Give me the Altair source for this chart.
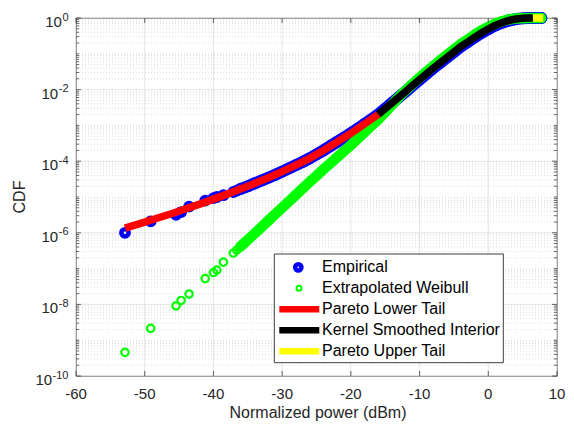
import altair as alt
import pandas as pd

# ---------------- values ----------------
# Empirical CDF: normalized power (dBm) and -log10(CDF)
emp_power = [-52.87, -49.13, -45.44, -44.70, -43.55, -41.20, -40.00, -39.50, -38.55, -37.10, -36.60, -36.10,
             -35, -34, -33, -32, -31, -30, -29, -28, -27, -26, -25, -24, -23, -22, -21, -20,
             -19, -18, -17, -16, -15, -14, -13, -12, -11, -10, -9, -8, -7, -6, -5, -4, -3, -2, -1,
             0, 1, 2, 3, 4, 5, 6, 7, 7.7]
emp_nlog = [6.00, 5.68, 5.50, 5.42, 5.27, 5.10, 5.03, 5.00, 4.95, 4.86, 4.82, 4.78,
            4.70, 4.62, 4.54, 4.46, 4.38, 4.29, 4.20, 4.11, 4.02, 3.92, 3.81, 3.70, 3.58, 3.46, 3.34, 3.22,
            3.09, 2.96, 2.83, 2.69, 2.53, 2.37, 2.21, 2.05, 1.88, 1.72, 1.56, 1.40, 1.25, 1.10, 0.95, 0.80,
            0.67, 0.54, 0.42,
            0.31, 0.21, 0.13, 0.07, 0.03, 0.01, 0.003, 0.0005, 0.0]
# Extrapolated Weibull evaluated at the same powers
wb_nlog = [9.34, 8.67, 8.04, 7.89, 7.71, 7.28, 7.11, 7.04, 6.82, 6.57, 6.48, 6.39,
           6.20, 6.02, 5.84, 5.66, 5.48, 5.30, 5.12, 4.94, 4.76, 4.58, 4.41, 4.23, 4.06, 3.89, 3.72, 3.55,
           3.37, 3.19, 3.01, 2.83, 2.63, 2.42, 2.21, 2.02, 1.84, 1.67, 1.50, 1.34, 1.18, 1.03, 0.88, 0.73,
           0.60, 0.47, 0.35,
           0.25, 0.16, 0.09, 0.04, 0.015, 0.004, 0.001, 0.0, 0.0]
# Pareto lower tail
red_power = [-52.87, -50, -48, -46, -44, -42, -40, -38, -36, -34, -32, -30, -28, -26, -24, -22, -20, -18, -16]
red_nlog = [5.87, 5.70, 5.58, 5.46, 5.33, 5.20, 5.06, 4.92, 4.77, 4.62, 4.46, 4.29, 4.11, 3.92, 3.70,
            3.46, 3.22, 2.96, 2.69]
# Kernel smoothed interior
ker_power = [-16, -15, -14, -13, -12, -11, -10, -9, -8, -7, -6, -5, -4, -3, -2, -1, 0, 1, 2, 3, 4, 5, 6, 6.5]
ker_nlog = [2.69, 2.53, 2.37, 2.21, 2.05, 1.88, 1.72, 1.56, 1.40, 1.25, 1.10, 0.95, 0.80, 0.67, 0.54, 0.42,
            0.31, 0.21, 0.13, 0.07, 0.03, 0.01, 0.003, 0.001]
# Pareto upper tail
up_power = [6.5, 7.0, 7.5, 8.0]
up_nlog = [0.001, 0.0006, 0.0002, 0.0]

x_ticks = [-60, -50, -40, -30, -20, -10, 0, 10]
y_exps = [0, -2, -4, -6, -8, -10]
x_title = "Normalized power (dBm)"
y_title = "CDF"
legend_labels = ["Empirical", "Extrapolated Weibull", "Pareto Lower Tail",
                 "Kernel Smoothed Interior", "Pareto Upper Tail"]
legend_colors = ["#0000ff", "#00ff00", "#ff0000", "#000000", "#ffff00"]

# ---------------- tables ----------------
def frame(p, nl):
    return pd.DataFrame({"p": p, "cdf": [10.0 ** (-v) for v in nl]})

emp_df = frame(emp_power, emp_nlog)
wb_df = frame(emp_power, wb_nlog)
red_df = frame(red_power, red_nlog)
ker_df = frame(ker_power, ker_nlog)
up_df = frame(up_power, up_nlog)

minor_vals = [k * 10.0 ** d for d in range(-10, 0) for k in range(2, 10)] + \
             [10.0 ** d for d in (-9, -7, -5, -3, -1)]
minor_df = pd.DataFrame({"v": minor_vals})
major_df = pd.DataFrame({"v": [10.0 ** e for e in y_exps]})
xt_df = pd.DataFrame({"t": x_ticks, "lab": [("-" if t < 0 else "") + str(abs(t)) for t in x_ticks]})
ylab_df = pd.DataFrame({"e": y_exps, "v": [10.0 ** e for e in y_exps],
                        "lab": [("-" if e < 0 else "") + str(abs(e)) for e in y_exps]})
leg_df = pd.DataFrame({"label": legend_labels, "i": list(range(len(legend_labels)))})
one = pd.DataFrame({"a": [0]})

W, H = 481, 358
FONT = "Liberation Sans"
AX = "#262626"
GRID = "#dedede"

xscale = alt.Scale(domain=[-60, 10], nice=False, zero=False)
yscale = alt.Scale(type="log", domain=[1e-10, 1], nice=False)

X = lambda: alt.X("p:Q", scale=xscale, axis=None)
Y = lambda: alt.Y("cdf:Q", scale=yscale, axis=None)

# grids
xgrid = alt.Chart(xt_df).mark_rule(color=GRID, strokeWidth=0.8).encode(
    x=alt.X("t:Q", scale=xscale, axis=None))
ygrid = alt.Chart(major_df).mark_rule(color=GRID, strokeWidth=0.8).encode(
    y=alt.Y("v:Q", scale=yscale, axis=None))
minor_grid = alt.Chart(minor_df).mark_rule(color="#cdcdcd", strokeWidth=0.7, strokeDash=[1, 2]).encode(
    y=alt.Y("v:Q", scale=yscale, axis=None))

# data
emp_band = alt.Chart(emp_df).transform_filter("datum.p >= -36.2").mark_line(
    color="#0000ff", strokeWidth=12, strokeCap="round", strokeJoin="round").encode(x=X(), y=Y())
emp_pts = alt.Chart(emp_df).mark_point(shape="circle", filled=False, color="#0000ff", size=52,
                                      strokeWidth=4.6, opacity=1).encode(x=X(), y=Y())
wb_band = alt.Chart(wb_df).transform_filter("datum.p >= -36.2").mark_line(
    color="#00ff00", strokeWidth=10.5, strokeCap="round", strokeJoin="round").encode(x=X(), y=Y())
wb_pts = alt.Chart(wb_df).mark_point(shape="circle", filled=False, color="#00ff00", size=55,
                                    strokeWidth=2.2, opacity=1).encode(x=X(), y=Y())
red_line = alt.Chart(red_df).mark_line(color="#ff0000", strokeWidth=7.5, strokeCap="butt").encode(x=X(), y=Y())
ker_line = alt.Chart(ker_df).mark_line(color="#000000", strokeWidth=7.5, strokeCap="butt").encode(x=X(), y=Y())
up_line = alt.Chart(up_df).mark_line(color="#ffff00", strokeWidth=7.5, strokeCap="butt").encode(x=X(), y=Y())

# inward ticks
tick_style = dict(color=AX, strokeWidth=0.7)
xt_bot = alt.Chart(xt_df).mark_rule(**tick_style).encode(
    x=alt.X("t:Q", scale=xscale, axis=None), y=alt.value(H), y2=alt.value(H - 5))
xt_top = alt.Chart(xt_df).mark_rule(**tick_style).encode(
    x=alt.X("t:Q", scale=xscale, axis=None), y=alt.value(0), y2=alt.value(5))
yt_l = alt.Chart(major_df).mark_rule(**tick_style).encode(
    y=alt.Y("v:Q", scale=yscale, axis=None), x=alt.value(0), x2=alt.value(5))
yt_r = alt.Chart(major_df).mark_rule(**tick_style).encode(
    y=alt.Y("v:Q", scale=yscale, axis=None), x=alt.value(W - 5), x2=alt.value(W))
ym_l = alt.Chart(minor_df).mark_rule(**tick_style).encode(
    y=alt.Y("v:Q", scale=yscale, axis=None), x=alt.value(0), x2=alt.value(3))
ym_r = alt.Chart(minor_df).mark_rule(**tick_style).encode(
    y=alt.Y("v:Q", scale=yscale, axis=None), x=alt.value(W - 3), x2=alt.value(W))

# x tick labels
xlab = alt.Chart(xt_df).mark_text(align="center", baseline="alphabetic", fontSize=15, font=FONT,
                                  color=AX).encode(
    x=alt.X("t:Q", scale=xscale, axis=None), y=alt.value(H + 23), text="lab:N")
# y tick labels 10^e
ylab_exp = alt.Chart(ylab_df).mark_text(align="right", baseline="alphabetic", fontSize=11, font=FONT,
                                        color=AX, dy=2.5).encode(
    y=alt.Y("v:Q", scale=yscale, axis=None), x=alt.value(-7.5), text="lab:N")
ylab_base = alt.Chart(ylab_df).transform_calculate(
    bx="-8 - (6.12*(length(datum.lab) - (datum.e < 0 ? 1 : 0)) + (datum.e < 0 ? 3.66 : 0))"
).mark_text(align="right", baseline="alphabetic", fontSize=15, font=FONT, color=AX, dy=9, text="10").encode(
    y=alt.Y("v:Q", scale=yscale, axis=None), x=alt.X("bx:Q", scale=None, axis=None))
# axis titles
xtitle = alt.Chart(one).mark_text(align="center", baseline="alphabetic", fontSize=16, font=FONT,
                                  color=AX, text=x_title).encode(x=alt.value(242), y=alt.value(H + 42))
ytitle = alt.Chart(one).mark_text(align="center", baseline="alphabetic", fontSize=16, font=FONT,
                                  color=AX, angle=270, text=y_title).encode(x=alt.value(-51), y=alt.value(179))

# legend
leg_color = alt.Color("label:N", scale=alt.Scale(domain=legend_labels, range=legend_colors), legend=None)
leg_y = alt.Y("ly:Q", scale=None, axis=None)
leg_box = alt.Chart(one).mark_rect(fill="white", stroke=AX, strokeWidth=0.9).encode(
    x=alt.value(198.3), x2=alt.value(427.3), y=alt.value(236), y2=alt.value(344.7))
leg_base = alt.Chart(leg_df).transform_calculate(ly="249.3 + datum.i * 21")
leg_text = leg_base.mark_text(align="left", baseline="middle", fontSize=16, font=FONT, color="#000000").encode(
    x=alt.value(246), y=leg_y, text="label:N")
leg_lines = leg_base.transform_filter("datum.i >= 2").mark_rule(strokeWidth=6.5, strokeCap="butt").encode(
    x=alt.value(203.3), x2=alt.value(243.3), y=leg_y, color=leg_color)
leg_emp = leg_base.transform_filter("datum.i == 0").mark_point(
    shape="circle", filled=False, size=40, strokeWidth=4.5, opacity=1).encode(
    x=alt.value(222.3), y=leg_y, color=leg_color)
leg_wb = leg_base.transform_filter("datum.i == 1").mark_point(
    shape="circle", filled=False, size=25, strokeWidth=2, opacity=1).encode(
    x=alt.value(223), y=leg_y, color=leg_color)

chart = alt.layer(
    xgrid, ygrid, minor_grid, emp_band, emp_pts, wb_band, wb_pts, red_line, ker_line, up_line,
    xt_bot, xt_top, yt_l, yt_r, ym_l, ym_r, xlab, ylab_exp, ylab_base, xtitle, ytitle,
    leg_box, leg_lines, leg_emp, leg_wb, leg_text
).properties(
    width=W, height=H,
    autosize=alt.AutoSizeParams(type="none"),
    padding={"left": 76, "top": 18, "right": 17, "bottom": 48},
    background="white",
).configure(font=FONT).configure_view(stroke=AX, strokeWidth=0.8)

chart.save("out.html", embed_options={"renderer": "svg", "actions": False})
